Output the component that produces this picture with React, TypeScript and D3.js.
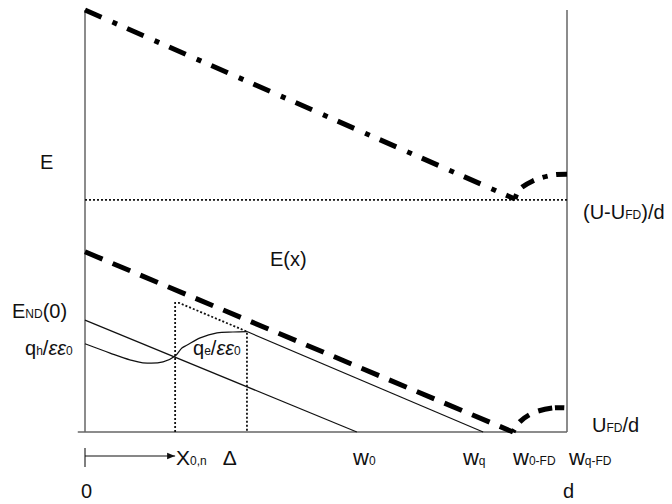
import React, { useEffect, useRef } from 'react';
import * as d3 from 'd3';

// schematic field profile, x and y both in percent of d / of the plot height
const dashDotLine = [[0, 100], [89.2, 55.2]];
const dashDotBump = [[89.2, 55.2], [90.0, 57.3], [92.9, 59.5], [97.1, 60.9], [100, 61.1]];
const dashedLine = [[0, 42.7], [88.8, 0]];
const dashedBump = [[88.8, 0], [90.2, 2.4], [92.9, 4.5], [97.1, 5.7], [100, 5.7]];
const thinLineA = [[0, 26.5], [56.4, 0]];
const thinLineB = [[33.6, 23.8], [82.6, 0]];
const chargeCurve = [
  [0, 20.9], [5.2, 18.7], [9.3, 17.1], [12, 16.4], [16.2, 16.6], [18.7, 18],
  [20.1, 19.9], [21.2, 20.6], [23.9, 22.3], [27.4, 23.5], [30.7, 23.7], [33.6, 23.8],
];
const dottedBox = [[18.7, 0], [18.7, 30.6], [19.5, 30.6], [33.6, 23.8], [33.6, 0]];
const levelUFD = 55;

const tickValues = [18.9, 28.6, 55.6, 78.4, 88.8, 100.4];
const tickMain = ['X', 'Δ', 'w', 'w', 'w', 'w'];
const tickSub = ['0,n', '', '0', 'q', '0-FD', 'q-FD'];

const W = 672;
const H = 504;
const FONT = '"Liberation Sans", Arial, sans-serif';

export default function App() {
  const ref = useRef<SVGSVGElement>(null);

  useEffect(() => {
    const svg = d3.select(ref.current);
    svg.selectAll('*').remove();

    const x = d3.scaleLinear().domain([0, 100]).range([85, 567]);
    const y = d3.scaleLinear().domain([0, 100]).range([432, 10]);

    const straight = d3.line<number[]>().x(d => x(d[0])).y(d => y(d[1]));
    const smooth = d3
      .line<number[]>()
      .x(d => x(d[0]))
      .y(d => y(d[1]))
      .curve(d3.curveCatmullRom.alpha(0.5));

    svg
      .append('defs')
      .append('marker')
      .attr('id', 'arrow')
      .attr('viewBox', '0 0 10 10')
      .attr('refX', 10)
      .attr('refY', 5)
      .attr('markerWidth', 8)
      .attr('markerHeight', 8)
      .attr('markerUnits', 'userSpaceOnUse')
      .attr('orient', 'auto')
      .append('path')
      .attr('d', 'M0,1 L10,5 L0,9 Z')
      .attr('fill', '#111');

    // frame
    const axes = svg.append('g').attr('stroke', '#666').attr('stroke-width', 1.5);
    axes.append('path').attr('d', straight([[0, 0], [0, 100]]));
    axes.append('path').attr('d', straight([[100, 0], [100, 100]]));
    axes.append('path').attr('d', straight([[-1.5, 0], [100, 0]]));

    // dotted guides
    const dots = svg
      .append('g')
      .attr('fill', 'none')
      .attr('stroke', '#111')
      .attr('stroke-width', 1.8)
      .attr('stroke-dasharray', '2 2');
    dots.append('path').attr('d', straight([[0, levelUFD], [100, levelUFD]]));
    dots.append('path').attr('d', straight(dottedBox));

    // thin solid lines and charge curve
    const thin = svg.append('g').attr('fill', 'none').attr('stroke', '#111').attr('stroke-width', 1.2);
    thin.append('path').attr('d', straight(thinLineA));
    thin.append('path').attr('d', straight(thinLineB));
    thin.append('path').attr('d', smooth(chargeCurve));

    // thick dashed / dash-dot fields
    const thick = svg.append('g').attr('fill', 'none').attr('stroke', '#000').attr('stroke-width', 5);
    thick.append('path').attr('d', straight(dashDotLine)).attr('stroke-dasharray', '18 12 5 11');
    thick.append('path').attr('d', smooth(dashDotBump)).attr('stroke-dasharray', '5 9 14 9');
    thick.append('path').attr('d', straight(dashedLine)).attr('stroke-dasharray', '19 11');
    thick.append('path').attr('d', smooth(dashedBump)).attr('stroke-dasharray', '3 9 12 10 14');

    // arrow from 0 to x0,n
    svg
      .append('path')
      .attr('d', `M${x(0)},448 V467`)
      .attr('stroke', '#555')
      .attr('stroke-width', 1.5);
    svg
      .append('path')
      .attr('d', `M${x(0)},456 H${x(18.7)}`)
      .attr('stroke', '#111')
      .attr('stroke-width', 1.2)
      .attr('marker-end', 'url(#arrow)');

    const label = (px: number, py: number, parts: [string, number, boolean?][]) => {
      const t = svg
        .append('text')
        .attr('x', px)
        .attr('y', py)
        .attr('font-family', FONT)
        .attr('font-size', 20)
        .attr('fill', '#111');
      parts.forEach(([s, size, italic]) => {
        t.append('tspan')
          .attr('font-size', size)
          .attr('font-style', italic ? 'italic' : 'normal')
          .text(s);
      });
    };

    label(40, 169, [['E', 20]]);
    label(270, 266, [['E(x)', 20]]);
    label(12, 318, [['E', 20], ['ND', 12], ['(0)', 20]]);
    label(25, 355, [['q', 20], ['h', 12], ['/', 20], ['εε', 20, true], ['0', 12]]);
    label(193, 355, [['q', 20], ['e', 12], ['/', 20], ['εε', 20, true], ['0', 12]]);
    label(583, 219, [['(U-U', 20], ['FD', 12], [')/d', 20]]);
    label(592, 432, [['U', 20], ['FD', 12], ['/d', 20]]);

    tickValues.forEach((v, i) => {
      label(x(v), 465, [[tickMain[i], tickMain[i] === 'w' ? 22 : 21], [tickSub[i], 12]]);
    });
    label(x(0) - 4, 498, [['0', 20]]);
    label(x(100) - 4, 498, [['d', 20]]);
  }, []);

  return (
    <svg
      ref={ref}
      width={W}
      height={H}
      style={{ position: 'absolute', left: 0, top: 0, background: '#fff' }}
    />
  );
}
